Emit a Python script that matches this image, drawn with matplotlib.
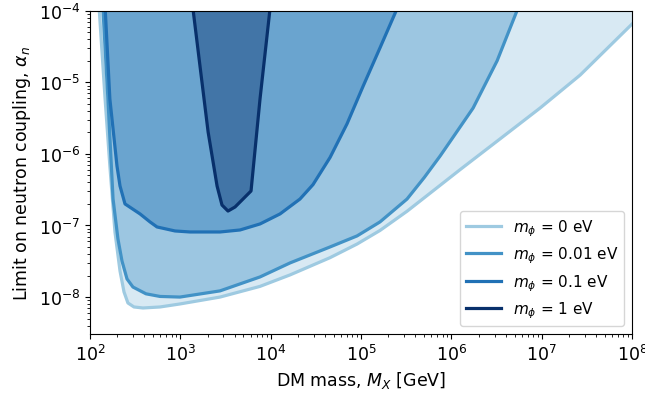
import matplotlib
matplotlib.use("Agg")
import matplotlib.pyplot as plt

# DM mass [GeV] and limit on alpha_n for each mediator mass
M0 = [126, 147, 166, 189, 215, 238, 263, 307, 386, 596, 990, 2750, 7620, 1.64e4,
      4.54e4, 9.03e4, 1.62e5, 3.23e5, 7.49e5, 1.25e6, 3.46e6, 9.59e6, 2.66e7, 1e8]
a0 = [1.13e-4, 5.85e-6, 6.78e-7, 8.11e-8, 2.31e-8, 1.18e-8, 8.27e-9, 7.27e-9,
      7.04e-9, 7.27e-9, 8.01e-9, 1.00e-8, 1.41e-8, 2.04e-8, 3.55e-8, 5.50e-8,
      8.51e-8, 1.58e-7, 3.63e-7, 6.03e-7, 1.62e-6, 4.37e-6, 1.26e-5, 6.52e-5]

M1 = [139, 158, 180, 204, 226, 257, 299, 417, 596, 990, 2750, 7620, 1.64e4,
      4.54e4, 9.03e4, 1.62e5, 3.23e5, 5.01e5, 7.50e5, 1.00e6, 1.74e6, 3.21e6, 5.47e6]
a1 = [1.09e-4, 5.85e-6, 2.35e-7, 6.48e-8, 3.19e-8, 1.79e-8, 1.38e-8, 1.11e-8,
      1.02e-8, 1.00e-8, 1.22e-8, 1.91e-8, 3.00e-8, 5.01e-8, 7.14e-8, 1.12e-7,
      2.34e-7, 4.68e-7, 9.33e-7, 1.58e-6, 4.37e-6, 2.00e-5, 1.09e-4]

M2 = [147, 166, 199, 215, 244, 358, 462, 552, 873, 1280, 2750, 4580, 7620,
      1.27e4, 2.11e4, 2.94e4, 4.54e4, 7.00e4, 1.05e5, 1.62e5, 2.50e5]
a2 = [1.13e-4, 5.85e-6, 6.78e-7, 3.56e-7, 2.00e-7, 1.45e-7, 1.12e-7, 9.53e-8,
      8.38e-8, 8.11e-8, 8.11e-8, 8.65e-8, 1.05e-7, 1.45e-7, 2.34e-7, 3.72e-7,
      8.91e-7, 2.63e-6, 8.71e-6, 3.02e-5, 1.06e-4]

M3 = [1380, 1650, 2030, 2550, 2890, 3370, 4030, 6060, 7620, 9830]
a3 = [1.06e-4, 1.69e-5, 2.02e-6, 3.56e-7, 1.93e-7, 1.59e-7, 1.81e-7, 3.03e-7,
      5.85e-6, 1.06e-4]

labels = [r"$m_\phi$ = 0 eV", r"$m_\phi$ = 0.01 eV", r"$m_\phi$ = 0.1 eV", r"$m_\phi$ = 1 eV"]
colors = ["#9ecae1", "#4292c6", "#2171b5", "#08306b"]

fig = plt.figure(figsize=(6.45, 4.02), dpi=100)
ax = fig.add_axes([0.1395, 0.1667, 0.8405, 0.8043])

for M, a, c, lab in zip([M0, M1, M2, M3], [a0, a1, a2, a3], colors, labels):
    ax.fill_between(M, a, 1e-3, color=c, alpha=0.4, linewidth=0)
    ax.plot(M, a, color=c, lw=2.3, label=lab, solid_joinstyle="round")

ax.set_xscale("log")
ax.set_yscale("log")
ax.set_xlim(1e2, 1e8)
ax.set_ylim(3.05e-9, 1e-4)
ax.set_xlabel(r"DM mass, $M_X$ [GeV]", fontsize=12.5)
ax.set_ylabel(r"Limit on neutron coupling, $\alpha_n$", fontsize=12.5)
ax.tick_params(labelsize=12.5)
ax.legend(loc="lower right", fontsize=11, handlelength=2.3, labelspacing=0.45)

fig.savefig("out.png", dpi=100)
